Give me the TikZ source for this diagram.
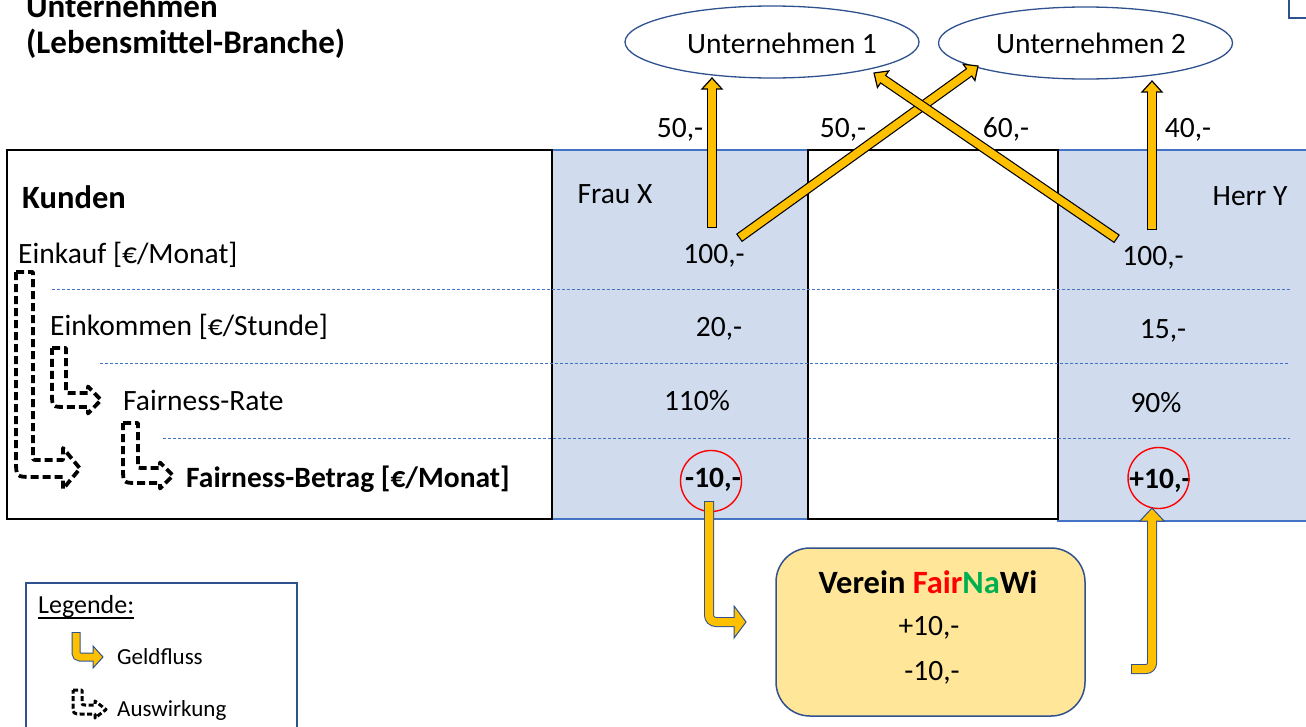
\documentclass[tikz,border=0pt]{standalone}
\usepackage{fontspec}
\setmainfont{Carlito}
\usetikzlibrary{calc,shapes.geometric}
\definecolor{gold}{HTML}{FFC000}
\definecolor{colfill}{HTML}{D0DCEE}
\definecolor{blueline}{HTML}{2F528F}
\definecolor{colborder}{HTML}{4472C4}
\definecolor{vfill}{HTML}{FFE699}
\definecolor{fairred}{HTML}{FF0000}
\definecolor{nagreen}{HTML}{00B050}
% straight money arrow: #1 tail, #2 tip
\newcommand\strarrow[2]{%
  \path ($(#2)!11pt!(#1)$) coordinate (tmpH) ($(tmpH)!1.5pt!(#2)$) coordinate (tmpI) ($(#1)!1.2pt!(#2)$) coordinate (tmpS);
  \draw[line width=10pt, draw=black] (#1) -- (tmpH);
  \filldraw[fill=gold, draw=black, line width=1.2pt] ($(tmpH)!10pt!90:(#2)$) -- (#2) -- ($(tmpH)!10pt!-90:(#2)$) -- cycle;
  \draw[line width=7.6pt, draw=gold] (tmpS) -- (tmpI);
}
% bent money arrow: #1 S, #2 C, #3 H, #4 T, #5 head half width, #6 outer width, #7 inner width, #8 radius
\newcommand\bentarrow[8]{%
  \path ($(#3)!1.5pt!(#4)$) coordinate (tmpI) ($(#1)!1pt!(#2)$) coordinate (tmpS);
  \draw[line width=#6pt, draw=blueline, rounded corners=#8pt] (#1) -- (#2) -- (#3);
  \filldraw[fill=gold, draw=blueline, line width=1pt] ($(#3)!#5pt!90:(#4)$) -- (#4) -- ($(#3)!#5pt!-90:(#4)$) -- cycle;
  \draw[line width=#7pt, draw=gold, rounded corners=#8pt] (tmpS) -- (#2) -- (tmpI);
}
% dashed bent arrow: #1 style, #2 xL, #3 yT, #4 w, #5 yB, #6 xH, #7 xT, #8 hh
\newcommand\dashbent[8]{%
  \draw[#1] (#2,#3) -- ({#2+#4},#3) -- ({#2+#4},{#5-#4-3}) .. controls ({#2+#4},{#5-#4}) .. ({#2+#4+3},{#5-#4}) -- (#6,{#5-#4}) -- (#6,{#5-#4/2-#8}) -- (#7,{#5-#4/2}) -- (#6,{#5-#4/2+#8}) -- (#6,#5) -- ({#2+#4},#5) .. controls (#2,#5) .. (#2,{#5-#4}) -- cycle;}
\begin{document}
\begin{tikzpicture}[x=1pt,y=-1pt,
  lbl/.style={inner sep=0pt, font=\fontsize{29.5}{34}\selectfont},
  lblb/.style={inner sep=0pt, font=\fontsize{29.5}{34}\selectfont\bfseries},
  ttl/.style={inner sep=0pt, font=\fontsize{33}{38}\selectfont\bfseries},
  legf/.style={inner sep=0pt, font=\fontsize{23}{27}\selectfont},
  legt/.style={inner sep=0pt, font=\fontsize{26}{30}\selectfont},
  colbox/.style={fill=colfill, draw=colborder, line width=1.2pt},
  blkbox/.style={draw=black, line width=1.5pt},
  rowline/.style={draw=colborder, line width=1pt, dash pattern=on 3pt off 2pt},
  firm/.style={ellipse, draw=blueline, line width=1.3pt, minimum width=294pt, minimum height=72pt, inner sep=0pt},
  ring/.style={circle, draw=fairred, line width=1.4pt, minimum size=61pt, inner sep=0pt},
  auswirk/.style={draw=black, line width=3.8pt, dash pattern=on 8pt off 4pt, line join=round},
  auswirksmall/.style={draw=black, line width=3pt, dash pattern=on 5pt off 2.5pt, line join=round},
]
\useasboundingbox (0,0) rectangle (1306,726);
\clip (0,0) rectangle (1306,726);

% title
\node[ttl, anchor=base west] (title1) at (26,17) {Unternehmen};
\node[ttl, anchor=base west] (title2) at (26,53) {(Lebensmittel-Branche)};

% partial box top right
\draw[draw=blueline, line width=1.5pt] (1289,-5) -- (1289,18) -- (1315,18);

% firms
\node[firm] (u1) at (772,42) {};
\node[firm] (u2) at (1085.5,43) {};
\node[lbl, anchor=base] (u1t) at (782,53) {Unternehmen 1};
\node[lbl, anchor=base] (u2t) at (1091,53) {Unternehmen 2};

% table
\path[colbox] (552,150) rectangle (808,519);
\path[colbox] (1058,150) rectangle (1320,521);
\path[blkbox] (7,150) rectangle (552,519);
\path[blkbox, fill=white] (808,150) rectangle (1058,519);
\draw[rowline] (52,289) -- (1290,289);
\draw[rowline] (100,363) -- (1290,363);
\draw[rowline] (163,438) -- (1290,438);

% row labels
\node[inner sep=0pt, font=\fontsize{32.5}{38}\selectfont\bfseries, anchor=base west] (kunden) at (22,208) {Kunden};
\node[lbl, anchor=base west] (einkauf) at (18,263) {Einkauf [€/Monat]};
\node[lbl, anchor=base west] (einkommen) at (50,335) {Einkommen [€/Stunde]};
\node[lbl, anchor=base west] (frate) at (123,410) {Fairness-Rate};
\node[lblb, anchor=base west] (fbetrag) at (186,487) {Fairness-Betrag [€/Monat]};

% column values
\node[lbl, anchor=base] (fraux) at (615,203) {Frau X};
\node[lbl, anchor=base] (fx100) at (714,263) {100,-};
\node[lbl, anchor=base] (fx20) at (719,336) {20,-};
\node[lbl, anchor=base] (fx110) at (697,410) {110\%};
\node[lblb, anchor=base] (fxm10) at (713,487) {-10,-};
\node[lbl, anchor=base] (herry) at (1250,205) {Herr Y};
\node[lbl, anchor=base] (hy100) at (1153,265) {100,-};
\node[lbl, anchor=base] (hy15) at (1163,338) {15,-};
\node[lbl, anchor=base] (hy90) at (1156,412) {90\%};
\node[lblb, anchor=base] (hyp10) at (1160,488) {+10,-};

\node[ring] (c1) at (711,481) {};
\node[ring] (c2) at (1158.5,478) {};

% amounts above arrows
\node[lbl, anchor=base] (l50a) at (680,137) {50,-};
\node[lbl, anchor=base] (l50b) at (843,137) {50,-};
\node[lbl, anchor=base] (l60) at (1006,137) {60,-};
\node[lbl, anchor=base] (l40) at (1188,137) {40,-};

% dashed influence arrows
\dashbent{auswirk}{16}{272}{17}{477}{63}{80}{20.5}
\dashbent{auswirk}{52}{348}{14}{407}{88}{101}{13.5}
\dashbent{auswirk}{123}{423}{15}{483}{160}{173}{13}

% money arrows to firms
\coordinate (a1s) at (712,228); \coordinate (a1t) at (712,78);
\coordinate (a2s) at (739,238); \coordinate (a2t) at (978,66);
\coordinate (a3s) at (1117,239); \coordinate (a3t) at (874,73);
\coordinate (a4s) at (1152,230); \coordinate (a4t) at (1152,81);
\strarrow{a1s}{a1t}
\strarrow{a2s}{a2t}
\strarrow{a3s}{a3t}
\strarrow{a4s}{a4t}

% Verein
\node[draw=blueline, line width=1.5pt, fill=vfill, rounded corners=34pt, minimum width=309pt, minimum height=168pt, inner sep=0pt] (verein) at (930.5,632) {};
\node[inner sep=0pt, font=\fontsize{32.5}{38}\selectfont\bfseries, anchor=base] (vtitle) at (928,593) {Verein \textcolor{fairred}{Fair}\textcolor{nagreen}{Na}Wi};
\node[lbl, anchor=base] (vplus) at (929,635) {+10,-};
\node[lbl, anchor=base] (vminus) at (932,680) {-10,-};

% bent money arrows
\coordinate (b1s) at (709,501); \coordinate (b1c) at (709,622);
\coordinate (b1h) at (734,622); \coordinate (b1t) at (746,622);
\bentarrow{b1s}{b1c}{b1h}{b1t}{16}{10}{8}{7}
\coordinate (b2s) at (1131,669); \coordinate (b2c) at (1152,669);
\coordinate (b2h) at (1152,521); \coordinate (b2t) at (1152,508);
\bentarrow{b2s}{b2c}{b2h}{b2t}{12}{10}{8}{6}

% legend
\draw[draw=blueline, line width=1.3pt, fill=white] (26,583) rectangle (297,740);
\node[legt, anchor=base west] (legtitle) at (38,613) {Legende:};
\draw[line width=1.2pt] ($(legtitle.base west)+(0,5)$) -- ($(legtitle.base east)+(0,5)$);
\coordinate (b3s) at (76,632); \coordinate (b3c) at (76,657);
\coordinate (b3h) at (93,657); \coordinate (b3t) at (103,657);
\bentarrow{b3s}{b3c}{b3h}{b3t}{11}{9}{7}{4}
\node[legf, anchor=base west] (geld) at (117,664) {Geldfluss};
\dashbent{auswirksmall}{73}{690}{9}{714}{95}{106}{8.5}
\node[legf, anchor=base west] (ausw) at (117,716) {Auswirkung};
\end{tikzpicture}
\end{document}
